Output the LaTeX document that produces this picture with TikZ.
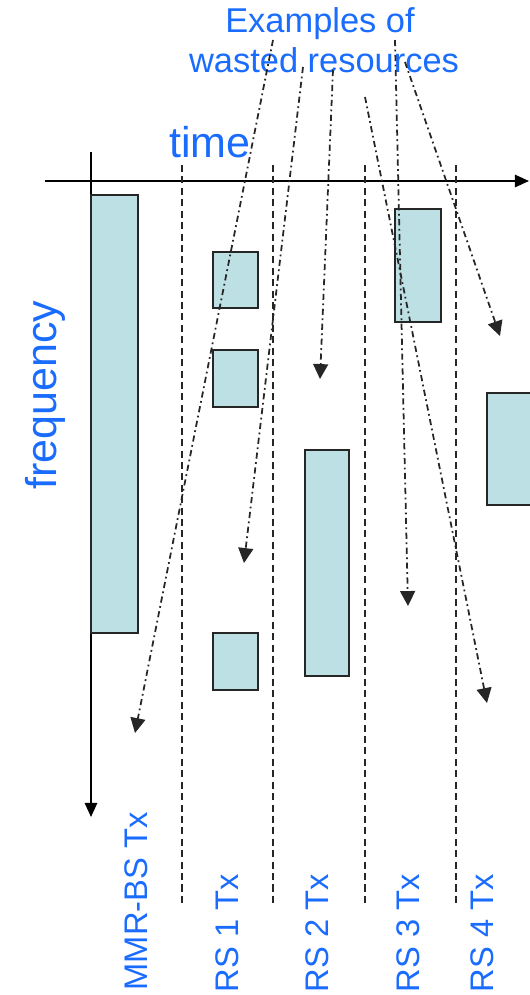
\documentclass[tikz,border=0pt]{standalone}
\usepackage{fontspec}
\setmainfont{Liberation Sans}
\usetikzlibrary{positioning,arrows.meta}
\definecolor{powder}{HTML}{BCE0E3}
\definecolor{linkblue}{HTML}{1A6CFF}

\begin{document}
\begin{tikzpicture}[x=0.02cm, y=-0.02cm,
    slot/.style={fill=powder, draw=black!85, line width=0.8pt},
    bluetext/.style={text=linkblue, inner sep=0pt},
    txlabel/.style={bluetext, rotate=90, anchor=east, font=\fontsize{18.6}{20}\selectfont},
    divider/.style={black!85, line width=0.7pt, dash pattern=on 4pt off 2.5pt},
    waste/.style={black!85, line width=1pt, dash pattern=on 3.5pt off 2pt on 1pt off 2pt,
      -{Triangle[length=8.5pt,width=8.5pt]}},
    axis/.style={black, line width=1.1pt, -{Triangle[length=8pt,width=7pt]}}]
      \useasboundingbox (0,0) rectangle (529,995);

      % axes
      \draw[axis] (45,181) -- (529,181);
      \draw[axis] (91,152) -- (91,817);

      % slot boundaries
      \draw[divider] (182,165) -- (182,903);
      \draw[divider] (273,165) -- (273,903);
      \draw[divider] (365,165) -- (365,903);
      \draw[divider] (456,165) -- (456,903);

      % allocated resources
      \fill[slot] (91,195) rectangle (138,633);
      \fill[slot] (213,252) rectangle (258,308);
      \fill[slot] (213,350) rectangle (258,407);
      \fill[slot] (213,633) rectangle (258,690);
      \fill[slot] (305,450) rectangle (349,676);
      \fill[slot] (395,209) rectangle (441,322);
      \fill[slot] (487,393) rectangle (532,505);

      % texts
      \node[bluetext, anchor=base, font=\fontsize{19.6}{20}\selectfont] (examples) at (320,32) {Examples of};
      \node[bluetext, anchor=base, font=\fontsize{19.6}{20}\selectfont] (wasted) at (324,72) {wasted resources};
      \node[bluetext, anchor=base, font=\fontsize{24.5}{26}\selectfont] (time) at (210,157) {time};
      \node[bluetext, rotate=90, font=\fontsize{24.5}{26}\selectfont] (freq) at (45,395) {frequency};

      \node[txlabel] (mmrbs) at (136,812) {MMR-BS Tx};
      \node[txlabel] (rsone) at (227,874) {RS 1 Tx};
      \node[txlabel] (rstwo) at (317,874) {RS 2 Tx};
      \node[txlabel] (rsthree) at (408,874) {RS 3 Tx};
      \node[txlabel] (rsfour) at (482,874) {RS 4 Tx};

      % wasted resources pointers
      \coordinate (w1) at (273,40);
      \coordinate (w2) at (303,67);
      \coordinate (w3) at (333,70);
      \coordinate (w4) at (365,97);
      \coordinate (w5) at (395,40);
      \coordinate (w6) at (405,62);
      \coordinate (gap1) at (135,733);
      \coordinate (gap2) at (244,563);
      \coordinate (gap3) at (320,379);
      \coordinate (gap4) at (487,703);
      \coordinate (gap5) at (408,606);
      \coordinate (gap6) at (500,336);
      \draw[waste] (w1) -- (gap1);
      \draw[waste] (w2) -- (gap2);
      \draw[waste] (w3) -- (gap3);
      \draw[waste] (w4) -- (gap4);
      \draw[waste] (w5) -- (gap5);
      \draw[waste] (w6) -- (gap6);
    \end{tikzpicture}
\end{document}
